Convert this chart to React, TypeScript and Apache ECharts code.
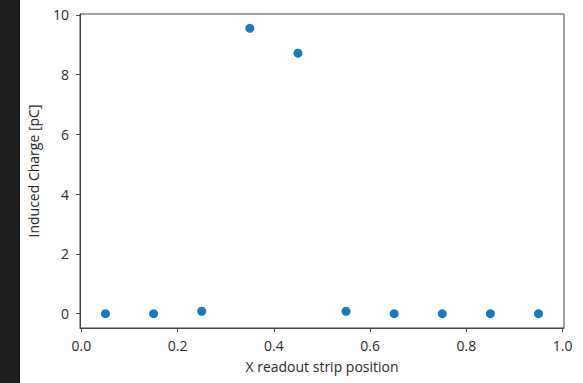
import React, { useEffect, useRef } from "react";
import * as echarts from "echarts";

const xPositions = [0.05, 0.15, 0.25, 0.35, 0.45, 0.55, 0.65, 0.75, 0.85, 0.95];
const charges = [0.0, 0.0, 0.08, 9.55, 8.72, 0.08, 0.0, 0.0, 0.0, 0.0];
const xTicks = [0, 0.2, 0.4, 0.6, 0.8, 1.0];
const yTicks = [0, 2, 4, 6, 8, 10];

const FONT = "Open Sans";
const TEXT = "#2b2b2b";
const SPINE = "#444444";

export default function App() {
  const ref = useRef<HTMLDivElement>(null);
  useEffect(() => {
    if (!ref.current) return;
    const chart = echarts.init(ref.current, undefined, { renderer: "svg" });
    chart.setOption({
      animation: false,
      backgroundColor: "#ffffff",
      grid: {
        left: 80,
        right: 19,
        top: 14,
        bottom: 55,
        show: true,
        borderColor: SPINE,
        borderWidth: 1,
        backgroundColor: "transparent",
      },
      graphic: [
        {
          type: "rect",
          left: 0,
          top: 0,
          shape: { x: 0, y: 0, width: 20, height: 383 },
          style: { fill: "#1e1e1e" },
          z: 100,
        },
      ],
      xAxis: {
        type: "value",
        min: -0.003,
        max: 1.003,
        name: "X readout strip position",
        nameLocation: "middle",
        nameGap: 31,
        nameTextStyle: { fontFamily: FONT, fontSize: 14, color: TEXT },
        axisLine: { show: true, onZero: false, lineStyle: { color: SPINE, width: 1 } },
        axisTick: {
          show: true,
          length: 4,
          inside: false,
          customValues: xTicks,
          lineStyle: { color: SPINE },
        },
        axisLabel: {
          customValues: xTicks,
          margin: 10,
          fontFamily: FONT,
          fontSize: 14,
          color: TEXT,
          formatter: (v: number) => v.toFixed(1),
        },
        splitLine: { show: false },
      },
      yAxis: {
        type: "value",
        min: -0.48,
        max: 10.03,
        name: "Induced Charge [pC]",
        nameLocation: "middle",
        nameGap: 40,
        nameTextStyle: { fontFamily: FONT, fontSize: 14, color: TEXT },
        axisLine: { show: true, onZero: false, lineStyle: { color: SPINE, width: 1 } },
        axisTick: {
          show: true,
          length: 4,
          inside: false,
          customValues: yTicks,
          lineStyle: { color: SPINE },
        },
        axisLabel: {
          customValues: yTicks,
          margin: 11,
          fontFamily: FONT,
          fontSize: 14,
          color: TEXT,
        },
        splitLine: { show: false },
      },
      series: [
        {
          type: "scatter",
          data: xPositions.map((x, i) => [x, charges[i]]),
          symbolSize: 9,
          itemStyle: { color: "#1f77b4", opacity: 1 },
        },
      ],
    });
    return () => chart.dispose();
  }, []);
  return (
    <div
      ref={ref}
      style={{ position: "fixed", left: 0, top: 0, width: 583, height: 383 }}
    />
  );
}
